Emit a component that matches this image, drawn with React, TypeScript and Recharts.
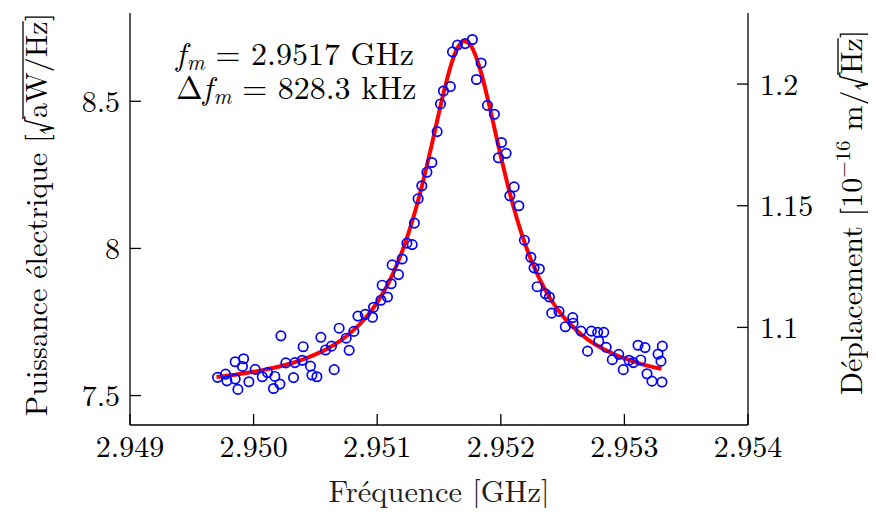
import React from 'react';
import { ComposedChart, Line, Scatter, XAxis, YAxis } from 'recharts';

// Fitted curve
const fitFreq = [
  2.9497, 2.9498, 2.9499, 2.95, 2.9501, 2.9502, 2.9503, 2.9504, 2.9505, 2.9506,
  2.9507, 2.9508, 2.9509, 2.951, 2.95105, 2.9511, 2.95115, 2.9512, 2.95125, 2.9513,
  2.95135, 2.9514, 2.95145, 2.9515, 2.95155, 2.9516, 2.95165, 2.9517, 2.95175, 2.9518,
  2.95185, 2.9519, 2.95195, 2.952, 2.95205, 2.9521, 2.95215, 2.9522, 2.95225, 2.9523,
  2.9524, 2.9525, 2.9526, 2.9527, 2.9528, 2.9529, 2.953, 2.9531, 2.9532, 2.9533,
];
const fitAmp = [
  7.563, 7.568, 7.574, 7.581, 7.589, 7.598, 7.609, 7.623, 7.64, 7.66,
  7.686, 7.719, 7.761, 7.817, 7.851, 7.89, 7.936, 7.988, 8.048, 8.116,
  8.193, 8.278, 8.368, 8.462, 8.55, 8.627, 8.681, 8.704, 8.694, 8.651,
  8.583, 8.498, 8.406, 8.313, 8.226, 8.146, 8.074, 8.011, 7.956, 7.908,
  7.83, 7.771, 7.727, 7.692, 7.665, 7.644, 7.626, 7.612, 7.6, 7.591,
];

// Measured points
const measFreq = [
  2.949708, 2.949773, 2.949784, 2.949851, 2.949851, 2.949873, 2.94991, 2.949919, 2.949962, 2.950013,
  2.95007, 2.950113, 2.950161, 2.950172, 2.950213, 2.950221, 2.950261, 2.950323, 2.950334, 2.950393,
  2.950401, 2.95046, 2.950472, 2.950512, 2.950544, 2.950582, 2.95063, 2.950652, 2.950692, 2.950749,
  2.950773, 2.950811, 2.950844, 2.950903, 2.950962, 2.95097, 2.95103, 2.95104, 2.951083, 2.951113,
  2.951121, 2.951172, 2.951202, 2.95124, 2.951283, 2.951301, 2.951331, 2.951361, 2.951402, 2.951442,
  2.951485, 2.951512, 2.951536, 2.951592, 2.951609, 2.951649, 2.951711, 2.95177, 2.951803, 2.951841,
  2.951892, 2.951948, 2.951981, 2.952005, 2.952043, 2.952073, 2.952108, 2.952146, 2.952191, 2.952243,
  2.952269, 2.952294, 2.952312, 2.952361, 2.952393, 2.952412, 2.952471, 2.952522, 2.952582, 2.952585,
  2.952649, 2.952702, 2.952733, 2.952784, 2.952792, 2.952833, 2.952853, 2.952902, 2.952954, 2.952991,
  2.953037, 2.953072, 2.95311, 2.953132, 2.953167, 2.953183, 2.953223, 2.953272, 2.953296, 2.953307,
  2.953304,
];
const measAmp = [
  7.562, 7.573, 7.55, 7.556, 7.615, 7.521, 7.599, 7.625, 7.547, 7.589,
  7.564, 7.578, 7.524, 7.565, 7.539, 7.703, 7.611, 7.561, 7.612, 7.62,
  7.666, 7.6, 7.57, 7.564, 7.698, 7.655, 7.668, 7.588, 7.729, 7.695,
  7.654, 7.718, 7.77, 7.776, 7.766, 7.8, 7.824, 7.875, 7.835, 7.88,
  7.944, 7.911, 7.964, 8.018, 8.013, 8.086, 8.169, 8.213, 8.259, 8.292,
  8.397, 8.491, 8.535, 8.55, 8.668, 8.691, 8.696, 8.71, 8.574, 8.63,
  8.486, 8.456, 8.308, 8.36, 8.323, 8.179, 8.209, 8.145, 8.028, 7.97,
  7.934, 7.87, 7.93, 7.846, 7.835, 7.78, 7.786, 7.734, 7.765, 7.746,
  7.719, 7.651, 7.719, 7.715, 7.685, 7.715, 7.664, 7.622, 7.64, 7.588,
  7.62, 7.612, 7.671, 7.621, 7.663, 7.574, 7.549, 7.641, 7.617, 7.668,
  7.546,
];

const xTicks = [2.949, 2.95, 2.951, 2.952, 2.953, 2.954];
const leftTicks = [7.5, 8, 8.5];
const rightTicks = [1.1, 1.15, 1.2];

const fitData = fitFreq.map((f, i) => ({ f, v: fitAmp[i] }));
const measData = measFreq.map((f, i) => ({ f, v: measAmp[i] }));

const FONT = 'Latin Modern Roman';
const tickStyle = { fill: '#000', fontSize: 30, fontFamily: FONT };
const TITLE = 30;

const Ring = (p: any) => (
  <circle cx={p.cx} cy={p.cy} r={4.7} fill="none" stroke="#0000ff" strokeWidth={1.7} />
);

export default function App() {
  return (
    <div style={{ position: 'relative', width: 860, height: 500 }}>
      <ComposedChart
        width={860}
        height={500}
        margin={{ top: 5, right: 20, bottom: 0, left: 0 }}
      >
        <XAxis
          xAxisId={0}
          dataKey="f"
          type="number"
          domain={[2.949, 2.954]}
          ticks={xTicks}
          allowDataOverflow
          tickFormatter={(v: number) => v.toFixed(3)}
          height={83}
          tickSize={-11}
          tickMargin={22}
          tick={tickStyle}
          stroke="#000"
          strokeWidth={1.3}
        />
        <XAxis
          xAxisId="top"
          orientation="top"
          dataKey="f"
          type="number"
          domain={[2.949, 2.954]}
          ticks={xTicks}
          allowDataOverflow
          height={0}
          tickSize={-11}
          tick={false}
          stroke="#000"
          strokeWidth={1.3}
        />
        <YAxis
          yAxisId={0}
          type="number"
          domain={[7.4, 8.8]}
          ticks={leftTicks}
          allowDataOverflow
          width={122}
          tickSize={-11}
          tickMargin={21}
          tick={tickStyle}
          tickFormatter={(v: number) => String(v)}
          stroke="#000"
          strokeWidth={1.3}
        />
        <YAxis
          yAxisId="right"
          orientation="right"
          type="number"
          domain={[1.0599, 1.2292]}
          ticks={rightTicks}
          allowDataOverflow
          width={100}
          tickSize={-11}
          tickMargin={23}
          tick={{ ...tickStyle, textAnchor: 'start' }}
          tickFormatter={(v: number) => String(v)}
          stroke="#000"
          strokeWidth={1.3}
        />
        <Line
          data={fitData}
          dataKey="v"
          type="monotone"
          stroke="#ff0000"
          strokeWidth={4}
          dot={false}
          activeDot={false}
          isAnimationActive={false}
        />
        <Scatter
          data={measData}
          dataKey="v"
          shape={Ring}
          isAnimationActive={false}
        />
      </ComposedChart>
      <svg
        width={860}
        height={500}
        style={{ position: 'absolute', left: 0, top: 0, overflow: 'visible', pointerEvents: 'none' }}
        fill="#000"
        fontFamily={FONT}
      >
        <text x={431} y={494} textAnchor="middle" fontSize={30.5} fill="#222">
          Fréquence [GHz]
        </text>

        {/* left title, rotated; radicand overline drawn as a decoration */}
        <g transform="translate(39,210) rotate(-90)" fontSize={TITLE}>
          <text x={100} y={0} textAnchor="end">
            Puissance électrique [<tspan fontSize={35} dy={3}>√</tspan>
          </text>
          <text x={100} y={0} textAnchor="start">aW/Hz]</text>
          <line x1={99} x2={100 + 3.222 * TITLE} y1={-24} y2={-24} stroke="#000" strokeWidth={1.3} />
        </g>

        {/* right title, rotated */}
        <g transform="translate(854,212) rotate(-90)" fontSize={TITLE}>
          <text x={146} y={0} textAnchor="end">
            Déplacement [10<tspan fontSize={21} dy={-12}>−16</tspan>
            <tspan dy={12}> m/</tspan>
            <tspan fontSize={35} dy={3}>√</tspan>
          </text>
          <text x={146} y={0} textAnchor="start">Hz]</text>
          <line x1={145} x2={146 + 1.194 * TITLE} y1={-24} y2={-24} stroke="#000" strokeWidth={1.3} />
        </g>

        <text x={168} y={57} fontSize={32}>
          <tspan fontStyle="italic">f</tspan>
          <tspan fontStyle="italic" fontSize={22} dy={5} dx={1}>m</tspan>
          <tspan dy={-5}> = 2.9517 GHz</tspan>
        </text>
        <text x={168} y={91} fontSize={32}>
          Δ<tspan fontStyle="italic">f</tspan>
          <tspan fontStyle="italic" fontSize={22} dy={5} dx={1}>m</tspan>
          <tspan dy={-5}> = 828.3 kHz</tspan>
        </text>
      </svg>
    </div>
  );
}
